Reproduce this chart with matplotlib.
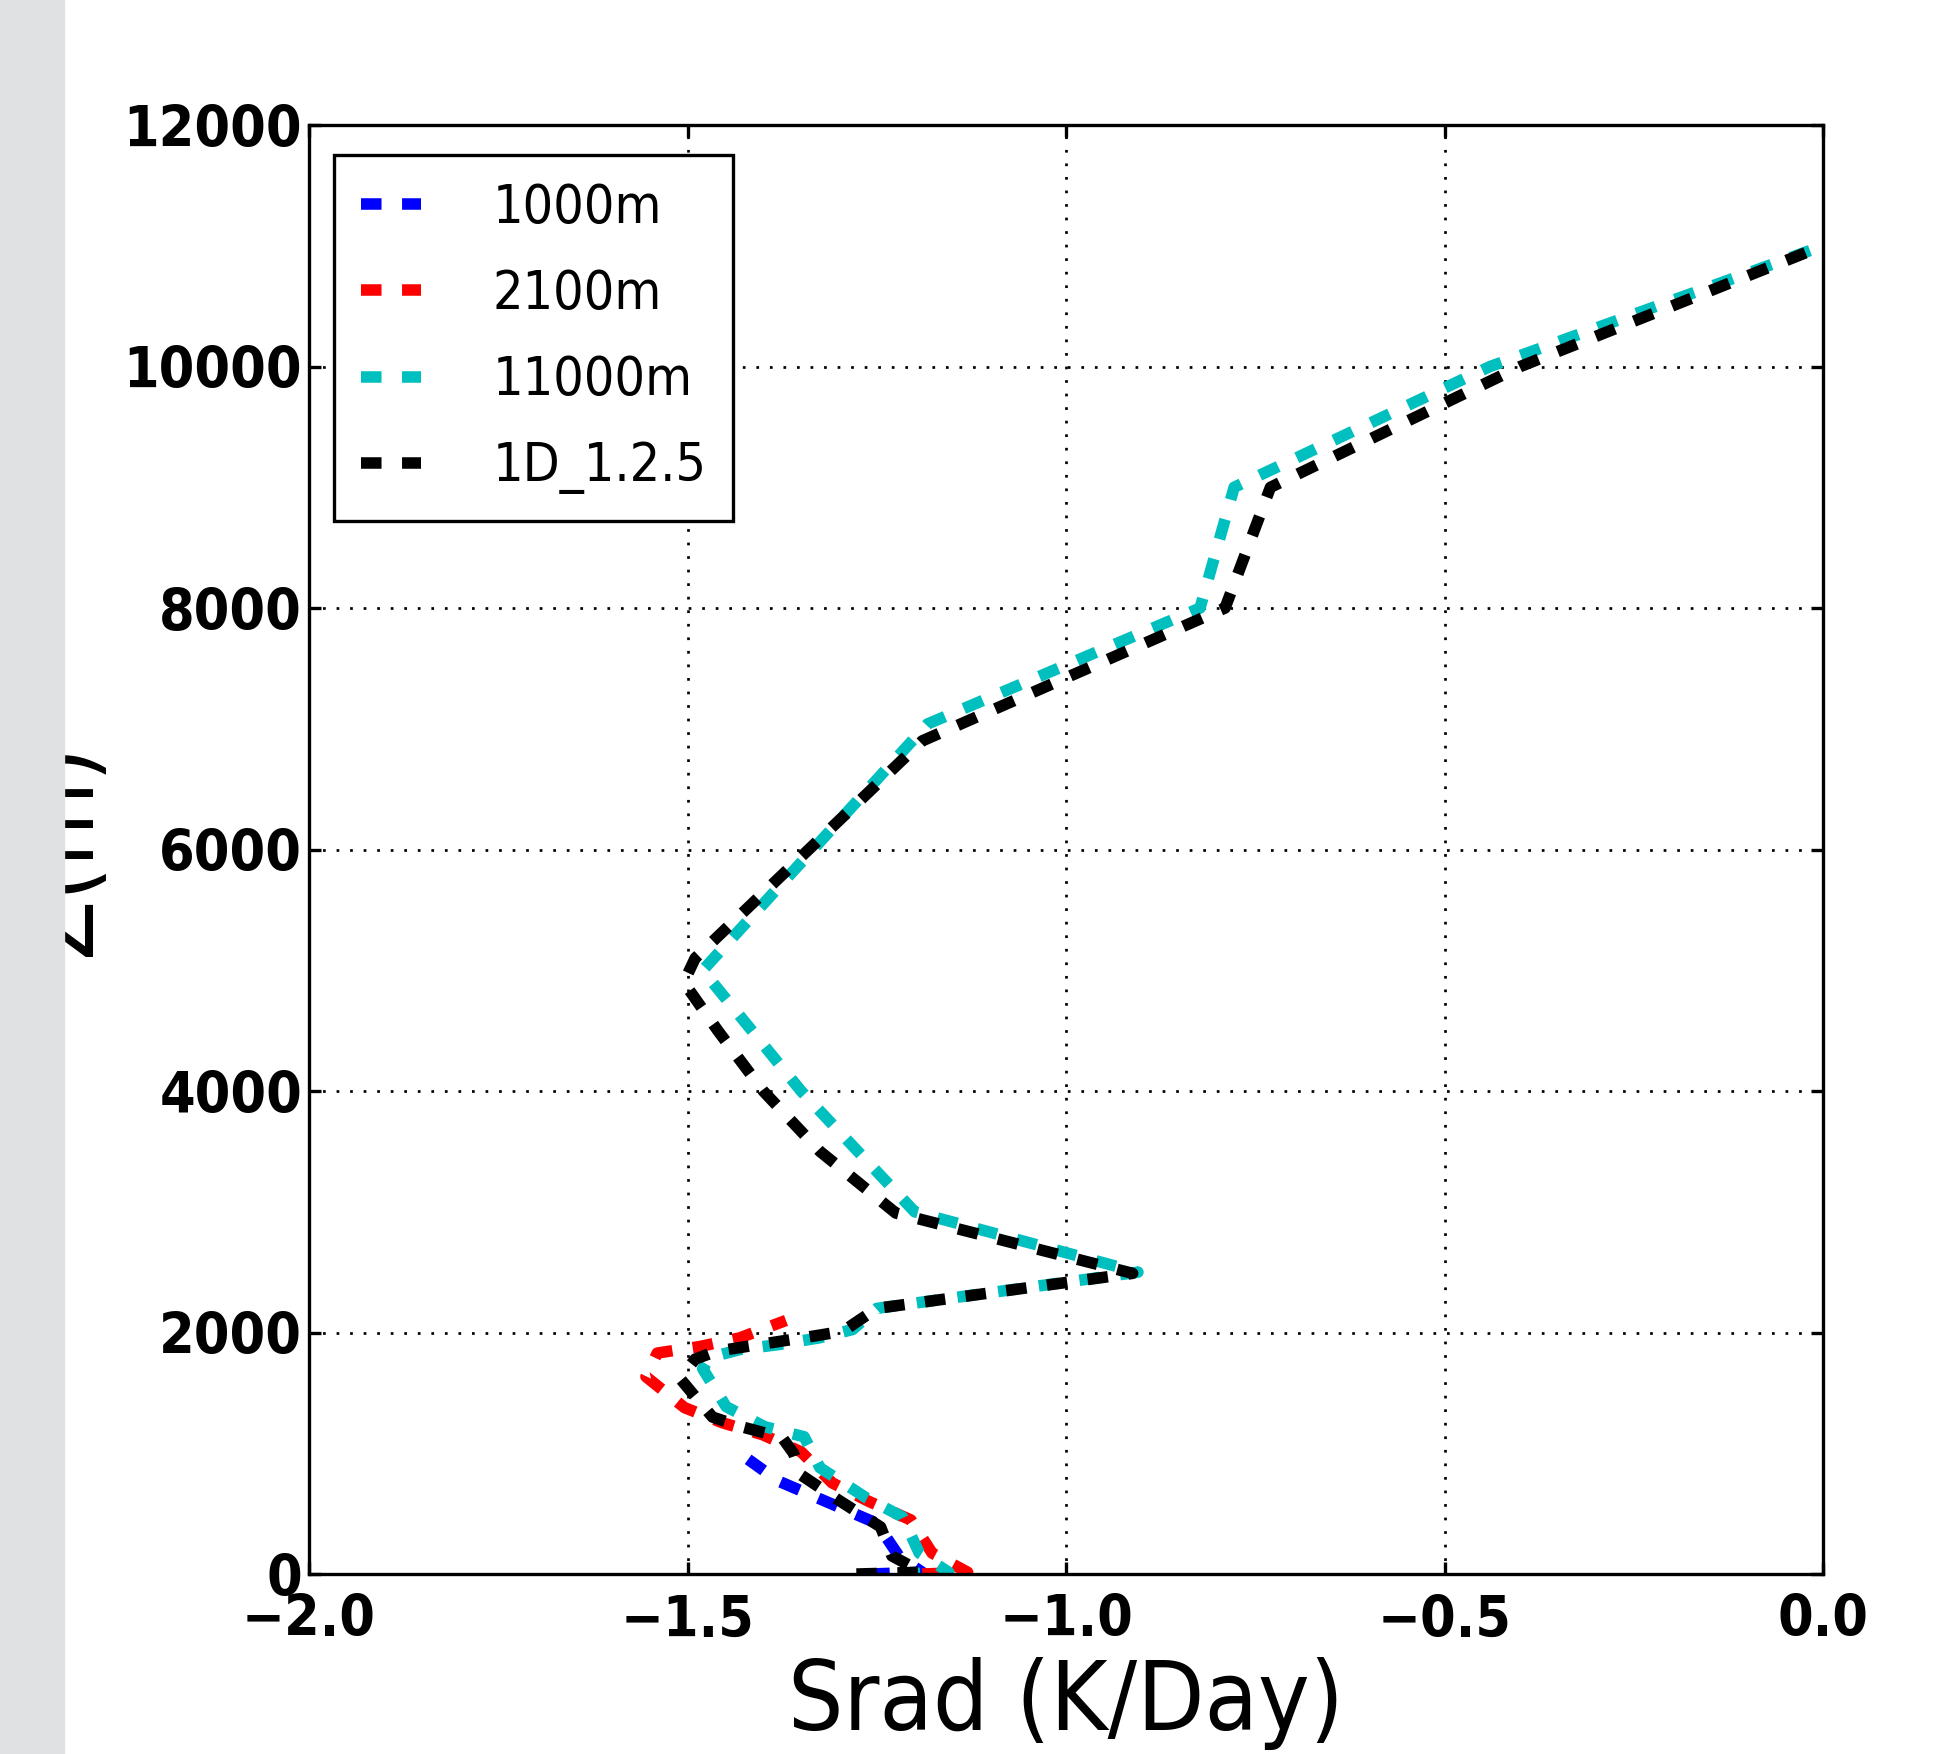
import matplotlib
matplotlib.use("Agg")
import matplotlib.pyplot as plt
from matplotlib.patches import Rectangle
from matplotlib.ticker import FuncFormatter

plt.rcParams['font.family'] = ['DejaVu Sans']
plt.rcParams['font.stretch'] = 'condensed'

# Профили радиационного нагрева (K/Day) по высоте (m)
z_1000 = [0, 15, 141, 420, 770, 950]
srad_1000 = [-1.26, -1.19, -1.22, -1.25, -1.38, -1.42]

z_2100 = [0, 15, 174, 448, 600, 755, 1012, 1154, 1253, 1378, 1635, 1830, 1884, 1956, 2030, 2100]
srad_2100 = [-1.19, -1.13, -1.177, -1.205, -1.26, -1.309, -1.35, -1.401, -1.454, -1.504,
             -1.555, -1.54, -1.484, -1.431, -1.40, -1.37]

z_11000 = [0, 15, 174, 473, 631, 880, 1137, 1220, 1386, 1700, 1793, 1859, 1901, 1956, 2025,
           2200, 2500, 3000, 4000, 5000, 7040, 8000, 9000, 10000, 11000]
srad_11000 = [-1.22, -1.155, -1.194, -1.216, -1.264, -1.325, -1.346, -1.398, -1.449, -1.48,
              -1.471, -1.431, -1.379, -1.326, -1.282, -1.25, -0.905, -1.20, -1.35, -1.48,
              -1.183, -0.823, -0.778, -0.44, 0.0]

z_1d = [0, 15, 150, 390, 610, 820, 1000, 1130, 1222, 1300, 1470, 1620, 1780, 1845, 1901, 1956,
        2010, 2200, 2490, 2990, 3500, 4000, 4500, 4900, 5100, 6900, 8000, 9000, 10000, 11000]
srad_1d = [-1.277, -1.19, -1.23, -1.245, -1.30, -1.35, -1.36, -1.375, -1.43, -1.467, -1.49,
           -1.51, -1.49, -1.462, -1.405, -1.348, -1.295, -1.25, -0.912, -1.225, -1.325, -1.40,
           -1.46, -1.505, -1.49, -1.19, -0.79, -0.73, -0.40, 0.0]

labels = ['1000m', '2100m', '11000m', '1D_1.2.5']
colors = ['b', 'r', 'c', 'k']

fig = plt.figure(figsize=(19.39, 17.54), dpi=100)
ax = fig.add_axes([0.1594, 0.1026, 0.7808, 0.8261])

dash = (0, (1.78, 1.78))
lw = 8.3
ax.plot(srad_1000, z_1000, color=colors[0], linestyle=dash, lw=lw, label=labels[0])
ax.plot(srad_2100, z_2100, color=colors[1], linestyle=dash, lw=lw, label=labels[1])
ax.plot(srad_11000, z_11000, color=colors[2], linestyle=dash, lw=lw, label=labels[2])
ax.plot(srad_1d, z_1d, color=colors[3], linestyle=dash, lw=lw, label=labels[3])

ax.set_xlim(-2.0, 0.0)
ax.set_ylim(0, 12000)
ax.set_xticks([-2.0, -1.5, -1.0, -0.5, 0.0])
ax.set_yticks(range(0, 12001, 2000))
ax.xaxis.set_major_formatter(FuncFormatter(lambda v, p: ('%.1f' % v).replace('-', '\u2212')))
ax.grid(True, color='k', linestyle=(0, (1, 4)), linewidth=1.95)

ax.tick_params(direction='in', length=8.5, width=2.4, top=True, right=True, labelsize=41)
ax.tick_params(axis='x', pad=14)
ax.tick_params(axis='y', pad=5)
for t in ax.get_xticklabels() + ax.get_yticklabels():
    t.set_fontweight('bold')
for s in ax.spines.values():
    s.set_linewidth(2.4)

ax.set_xlabel('Srad (K/Day)', fontsize=70)
ax.xaxis.set_label_coords(0.5, -0.0573)
ax.set_ylabel('Z(m)', fontsize=70)
ax.yaxis.set_label_coords(-0.1314, 0.5)

leg = ax.legend(loc='upper left', bbox_to_anchor=(0.0165, 0.9793), borderaxespad=0,
                fontsize=38.5, handlelength=1.13, handletextpad=1.33, labelspacing=0.64,
                borderpad=0.5, fancybox=False, framealpha=1)
leg.get_frame().set_edgecolor('k')
leg.get_frame().set_linewidth(2.4)

# серая полоса слева поверх подписи оси
fig.add_artist(Rectangle((0, 0), 64 / 1939, 1, transform=fig.transFigure,
                         color='#e0e1e3', zorder=10))

fig.savefig('out.png', dpi=100)
